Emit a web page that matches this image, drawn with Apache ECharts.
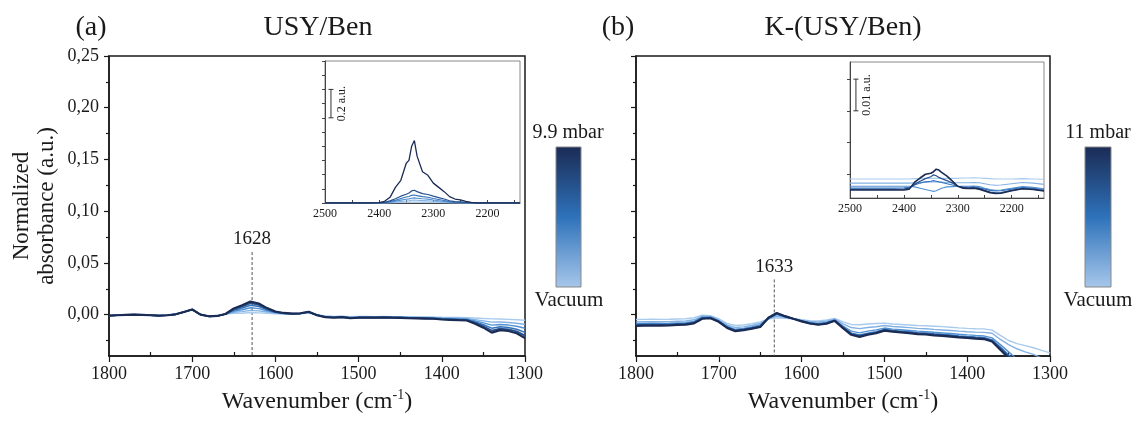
<!DOCTYPE html>
<html><head><meta charset="utf-8">
<script src="https://cdn.jsdelivr.net/npm/echarts@6/dist/echarts.min.js"></script>
<style>html,body{margin:0;padding:0;background:#fff}#c{width:1134px;height:421px}</style>
</head><body><div id="c"></div>
<script>
// ---------- DATA ----------
const wnMain = [1800,1790,1780,1770,1760,1750,1740,1730,1720,1710,1700,1690,1680,1670,1660,1650,1640,1630,1620,1610,1600,1590,1580,1570,1560,1550,1540,1530,1520,1510,1500,1490,1480,1470,1460,1450,1440,1430,1420,1410,1400,1390,1380,1370,1360,1350,1340,1330,1320,1310,1300];
const xTicksMain = [1800,1700,1600,1500,1400,1300];
const yTicksMain = [0,0.05,0.10,0.15,0.20,0.25];
const yMinorMain = [-0.025,0.025,0.075,0.125,0.175,0.225];
const xMinorMain = [1750,1650,1550,1450,1350];

// Panel (a) USY/Ben, lightest (vacuum) -> darkest (9.9 mbar)
const a0 = [-0.0010,-0.0006,-0.0003,0.0000,-0.0003,-0.0006,-0.0010,-0.0006,0.0003,0.0025,0.0050,0.0000,-0.0016,-0.0013,0.0006,0.0012,0.0013,0.0020,0.0017,0.0013,0.0009,0.0006,0.0005,0.0008,0.0015,-0.0001,-0.0013,-0.0018,-0.0016,-0.0020,-0.0018,-0.0018,-0.0019,-0.0018,-0.0019,-0.0020,-0.0021,-0.0022,-0.0023,-0.0024,-0.0026,-0.0027,-0.0028,-0.0029,-0.0033,-0.0037,-0.0041,-0.0043,-0.0046,-0.0050,-0.0055];
const a1 = [-0.0010,-0.0006,-0.0003,0.0000,-0.0003,-0.0006,-0.0010,-0.0006,0.0003,0.0025,0.0050,0.0000,-0.0016,-0.0013,0.0006,0.0022,0.0029,0.0041,0.0036,0.0026,0.0015,0.0009,0.0007,0.0010,0.0019,-0.0002,-0.0016,-0.0021,-0.0018,-0.0024,-0.0021,-0.0021,-0.0022,-0.0021,-0.0022,-0.0023,-0.0025,-0.0026,-0.0027,-0.0028,-0.0031,-0.0033,-0.0035,-0.0037,-0.0048,-0.0060,-0.0073,-0.0072,-0.0076,-0.0083,-0.0096];
const a2 = [-0.0010,-0.0006,-0.0003,0.0000,-0.0003,-0.0006,-0.0010,-0.0006,0.0003,0.0025,0.0050,0.0000,-0.0016,-0.0013,0.0006,0.0033,0.0047,0.0066,0.0058,0.0037,0.0019,0.0011,0.0008,0.0011,0.0022,-0.0003,-0.0019,-0.0024,-0.0020,-0.0027,-0.0024,-0.0024,-0.0025,-0.0023,-0.0025,-0.0026,-0.0028,-0.0029,-0.0030,-0.0032,-0.0036,-0.0039,-0.0041,-0.0044,-0.0060,-0.0080,-0.0102,-0.0096,-0.0101,-0.0112,-0.0132];
const a3 = [-0.0010,-0.0006,-0.0003,0.0000,-0.0003,-0.0006,-0.0010,-0.0006,0.0003,0.0025,0.0050,0.0000,-0.0016,-0.0013,0.0006,0.0043,0.0064,0.0090,0.0078,0.0047,0.0023,0.0013,0.0009,0.0012,0.0025,-0.0004,-0.0021,-0.0026,-0.0022,-0.0030,-0.0027,-0.0027,-0.0027,-0.0025,-0.0027,-0.0028,-0.0031,-0.0032,-0.0033,-0.0035,-0.0040,-0.0043,-0.0046,-0.0049,-0.0071,-0.0098,-0.0131,-0.0118,-0.0124,-0.0141,-0.0172];
const a4 = [-0.0010,-0.0006,-0.0003,0.0000,-0.0003,-0.0006,-0.0010,-0.0006,0.0003,0.0025,0.0050,0.0000,-0.0016,-0.0013,0.0006,0.0052,0.0079,0.0110,0.0094,0.0056,0.0027,0.0015,0.0010,0.0013,0.0027,-0.0005,-0.0023,-0.0028,-0.0024,-0.0033,-0.0029,-0.0029,-0.0029,-0.0027,-0.0029,-0.0030,-0.0033,-0.0034,-0.0036,-0.0038,-0.0044,-0.0047,-0.0050,-0.0053,-0.0080,-0.0112,-0.0154,-0.0135,-0.0142,-0.0162,-0.0203];
const a5 = [-0.0010,-0.0006,-0.0003,0.0000,-0.0003,-0.0006,-0.0010,-0.0006,0.0003,0.0025,0.0050,0.0000,-0.0016,-0.0013,0.0006,0.0060,0.0090,0.0126,0.0107,0.0063,0.0030,0.0016,0.0010,0.0013,0.0028,-0.0006,-0.0025,-0.0030,-0.0025,-0.0035,-0.0030,-0.0030,-0.0030,-0.0028,-0.0030,-0.0031,-0.0035,-0.0036,-0.0038,-0.0040,-0.0047,-0.0050,-0.0054,-0.0057,-0.0088,-0.0126,-0.0174,-0.0150,-0.0158,-0.0180,-0.0227];

// Panel (b) K-(USY/Ben), lightest (vacuum) -> darkest (11 mbar)
const b0 = [-0.0047,-0.0046,-0.0045,-0.0046,-0.0045,-0.0042,-0.0040,-0.0030,-0.0005,-0.0010,-0.0040,-0.0085,-0.0105,-0.0100,-0.0088,-0.0070,-0.0042,-0.0030,-0.0035,-0.0040,-0.0050,-0.0058,-0.0060,-0.0052,-0.0036,-0.0070,-0.0095,-0.0098,-0.0090,-0.0086,-0.0082,-0.0090,-0.0095,-0.0100,-0.0105,-0.0108,-0.0112,-0.0116,-0.0122,-0.0128,-0.0133,-0.0136,-0.0138,-0.0150,-0.0200,-0.0250,-0.0280,-0.0300,-0.0320,-0.0345,-0.0370];
const b1 = [-0.0070,-0.0069,-0.0068,-0.0069,-0.0068,-0.0064,-0.0062,-0.0050,-0.0015,-0.0018,-0.0052,-0.0100,-0.0125,-0.0118,-0.0105,-0.0085,-0.0040,-0.0015,-0.0028,-0.0040,-0.0055,-0.0067,-0.0072,-0.0064,-0.0044,-0.0090,-0.0125,-0.0135,-0.0125,-0.0117,-0.0105,-0.0115,-0.0120,-0.0126,-0.0133,-0.0137,-0.0143,-0.0148,-0.0154,-0.0160,-0.0165,-0.0169,-0.0172,-0.0180,-0.0240,-0.0290,-0.0330,-0.0360,-0.0385,-0.0420,-0.0460];
const b2 = [-0.0086,-0.0085,-0.0084,-0.0085,-0.0084,-0.0080,-0.0078,-0.0066,-0.0025,-0.0025,-0.0060,-0.0113,-0.0142,-0.0133,-0.0120,-0.0100,-0.0036,0.0000,-0.0022,-0.0040,-0.0060,-0.0077,-0.0085,-0.0076,-0.0052,-0.0110,-0.0160,-0.0176,-0.0160,-0.0148,-0.0130,-0.0140,-0.0146,-0.0153,-0.0160,-0.0164,-0.0171,-0.0176,-0.0182,-0.0190,-0.0196,-0.0201,-0.0205,-0.0225,-0.0290,-0.0360,-0.0430,-0.0490,-0.0550,-0.0610,-0.0670];
const b3 = [-0.0096,-0.0094,-0.0093,-0.0094,-0.0093,-0.0089,-0.0087,-0.0075,-0.0032,-0.0029,-0.0065,-0.0120,-0.0151,-0.0142,-0.0128,-0.0110,-0.0033,0.0008,-0.0018,-0.0040,-0.0063,-0.0082,-0.0092,-0.0082,-0.0056,-0.0120,-0.0180,-0.0198,-0.0180,-0.0166,-0.0143,-0.0153,-0.0160,-0.0167,-0.0175,-0.0179,-0.0186,-0.0191,-0.0198,-0.0206,-0.0212,-0.0217,-0.0221,-0.0245,-0.0315,-0.0390,-0.0465,-0.0525,-0.0585,-0.0645,-0.0705];
const b4 = [-0.0102,-0.0100,-0.0099,-0.0100,-0.0099,-0.0094,-0.0092,-0.0080,-0.0036,-0.0032,-0.0068,-0.0125,-0.0156,-0.0146,-0.0132,-0.0115,-0.0031,0.0012,-0.0016,-0.0040,-0.0064,-0.0084,-0.0095,-0.0085,-0.0058,-0.0125,-0.0188,-0.0207,-0.0188,-0.0173,-0.0149,-0.0159,-0.0166,-0.0174,-0.0182,-0.0186,-0.0193,-0.0198,-0.0205,-0.0213,-0.0219,-0.0225,-0.0229,-0.0253,-0.0328,-0.0405,-0.0483,-0.0543,-0.0603,-0.0663,-0.0723];
const b5 = [-0.0108,-0.0106,-0.0105,-0.0106,-0.0105,-0.0100,-0.0098,-0.0085,-0.0040,-0.0035,-0.0070,-0.0128,-0.0160,-0.0150,-0.0135,-0.0120,-0.0030,0.0015,-0.0015,-0.0040,-0.0065,-0.0086,-0.0098,-0.0088,-0.0060,-0.0130,-0.0195,-0.0215,-0.0195,-0.0180,-0.0155,-0.0165,-0.0172,-0.0180,-0.0188,-0.0192,-0.0200,-0.0205,-0.0212,-0.0220,-0.0226,-0.0232,-0.0236,-0.0260,-0.0340,-0.0420,-0.0500,-0.0560,-0.0620,-0.0680,-0.0740];

// Insets (CO2 region)
const wnInset = [2500,2480,2460,2440,2420,2400,2390,2380,2370,2360,2350,2345,2340,2335,2330,2320,2310,2300,2290,2280,2270,2260,2250,2240,2230,2220,2200,2180,2160,2140];
const xTicksInset = [2500,2400,2300,2200];
const xMinorInset = [2500,2450,2400,2350,2300,2250,2200,2150];
const ia0 = [0,0,0,0,0,0,0,0.001,0.002,0.004,0.005,0.006,0.007,0.007,0.007,0.006,0.005,0.004,0.003,0.002,0.001,0,0,0,0,0,0,0,0,0];
const ia1 = [0,0,0,0,0,0,0,0.003,0.007,0.011,0.014,0.016,0.019,0.020,0.019,0.017,0.015,0.012,0.009,0.006,0.003,0.002,0.001,0,0,0,0,0,0,0];
const ia2 = [0,0,0,0,0,0,0.001,0.006,0.013,0.020,0.026,0.029,0.034,0.036,0.034,0.030,0.027,0.021,0.016,0.011,0.006,0.003,0.002,0.001,0,0,0,0,0,0];
const ia3 = [0,0,0,0,0,0,0.002,0.010,0.020,0.032,0.042,0.046,0.054,0.056,0.052,0.045,0.040,0.032,0.025,0.018,0.010,0.006,0.004,0.002,0,0,0,0,0,0];
const ia4 = [0,0,0,0,0,0,0.004,0.015,0.030,0.048,0.062,0.070,0.085,0.090,0.080,0.066,0.060,0.048,0.038,0.028,0.016,0.010,0.008,0.004,0.001,0,0,0,0,0];
const ia5 = [0,0,0,0,0,0.002,0.012,0.040,0.110,0.160,0.280,0.300,0.400,0.440,0.330,0.220,0.195,0.140,0.110,0.080,0.045,0.028,0.022,0.012,0.004,0,0,0,0,0];
const ib0 = [0.0035,0.0035,0.0035,0.0035,0.0035,0.0035,0.0035,0.0036,0.0036,0.0037,0.0037,0.0037,0.0037,0.0037,0.0037,0.0037,0.0037,0.0037,0.0038,0.0038,0.0039,0.0038,0.0037,0.0036,0.0035,0.0035,0.0035,0.0036,0.0035,0.0034];
const ib1 = [0.0022,0.0022,0.0022,0.0022,0.0022,0.0022,0.0022,0.0023,0.0024,0.0025,0.0026,0.0026,0.0026,0.0025,0.0025,0.0024,0.0023,0.0023,0.0023,0.0023,0.0024,0.0023,0.0020,0.0017,0.0015,0.0016,0.0020,0.0024,0.0022,0.0018];
const ib2 = [0.0012,0.0012,0.0012,0.0012,0.0012,0.0012,0.0012,0.0010,0.0006,0.0002,-0.0002,-0.0004,-0.0002,0.0002,0.0006,0.0010,0.0011,0.0012,0.0012,0.0012,0.0013,0.0011,0.0006,0.0002,-0.0001,0.0000,0.0006,0.0011,0.0009,0.0004];
const ib3 = [0.0006,0.0006,0.0006,0.0006,0.0006,0.0007,0.0009,0.0016,0.0022,0.0026,0.0028,0.0030,0.0028,0.0026,0.0024,0.0020,0.0016,0.0012,0.0010,0.0009,0.0010,0.0007,0.0003,-0.0001,-0.0003,-0.0002,0.0003,0.0008,0.0006,0.0002];
const ib4 = [0.0002,0.0002,0.0002,0.0002,0.0002,0.0003,0.0006,0.0018,0.0028,0.0036,0.0042,0.0048,0.0045,0.0040,0.0036,0.0030,0.0022,0.0012,0.0008,0.0006,0.0007,0.0004,-0.0001,-0.0006,-0.0009,-0.0008,-0.0001,0.0005,0.0003,-0.0002];
const ib5 = [0,0,0,0,0,0,0.0003,0.0025,0.0038,0.0050,0.0053,0.0058,0.0066,0.0063,0.0056,0.0044,0.0028,0.0012,0.0006,0.0005,0.0006,0.0003,-0.0003,-0.0008,-0.0011,-0.0010,-0.0002,0.0004,0.0002,-0.0003];
const yTicksInsetB = [0.005,0.015,0.025,0.035];

// annotations
const peakA = 1628, peakB = 1633;
const titlesText = ['(a)', 'USY/Ben', '(b)', 'K-(USY/Ben)'];
const cbTop = ['9.9 mbar', '11 mbar'];
const cbBottom = 'Vacuum';

// ---------- CHART ----------
const FONT = '"Liberation Serif","DejaVu Serif",serif';
const colors = ['#a9cbee','#82b2e3','#5391d3','#3373bc','#26518e','#1b2c54'];
const INK = '#1a1a1a';
const chart = echarts.init(document.getElementById('c'));

const pair = (xs, ys) => xs.map((x, i) => [x, ys[i]]);

function mainX(gi) {
  return [{
    type: 'value', gridIndex: gi, position: 'bottom', min: 1300, max: 1800, inverse: true, interval: 100,
    axisLine: {show: true, onZero: false, lineStyle: {color: INK, width: 1.5}},
    axisTick: {show: true, length: 6, customValues: xTicksMain, lineStyle: {color: INK, width: 1.2}},
    axisLabel: {customValues: xTicksMain, fontFamily: FONT, fontSize: 18, color: INK, margin: 9, formatter: v => String(v)},
    splitLine: {show: false},
    name: 'Wavenumber (cm{s|-1})', nameLocation: 'middle', nameGap: 32,
    nameTextStyle: {fontFamily: FONT, fontSize: 24, color: INK, lineHeight: 28,
      rich: {s: {fontFamily: FONT, fontSize: 14, verticalAlign: 'top', lineHeight: 28, padding: [0, 0, 12, 0]}}}
  }, {
    type: 'value', gridIndex: gi, position: 'bottom', offset: 0, min: 1300, max: 1800, inverse: true,
    axisLine: {show: false, onZero: false},
    axisTick: {show: true, inside: true, length: 4, customValues: xMinorMain, lineStyle: {color: INK, width: 1.2}},
    axisLabel: {show: false}, splitLine: {show: false}
  }];
}
function mainY(gi, showLabels) {
  const ax = {
    type: 'value', gridIndex: gi, position: 'left', min: -0.04, max: 0.25,
    axisLine: {show: true, onZero: false, lineStyle: {color: INK, width: 1.5}},
    axisTick: {show: true, length: 5, customValues: yTicksMain, lineStyle: {color: INK, width: 1.2}},
    axisLabel: {show: showLabels, customValues: yTicksMain, fontFamily: FONT, fontSize: 18, color: INK, margin: 10,
      formatter: v => v.toFixed(2).replace('.', ',')},
    splitLine: {show: false}
  };
  if (showLabels) {
    Object.assign(ax, {
      name: 'Normalized\nabsorbance (a.u.)', nameLocation: 'middle', nameGap: 50, nameRotate: 90,
      nameTextStyle: {fontFamily: FONT, fontSize: 23, color: INK, lineHeight: 25}
    });
  }
  return [ax, {
    type: 'value', gridIndex: gi, position: 'left', offset: 0, min: -0.04, max: 0.25,
    axisLine: {show: false, onZero: false},
    axisTick: {show: true, length: 3, customValues: yMinorMain, lineStyle: {color: INK, width: 1.2}},
    axisLabel: {show: false}, splitLine: {show: false}
  }];
}
function insetX(gi) {
  return {
    type: 'value', gridIndex: gi, position: 'bottom', min: 2140, max: 2500, inverse: true,
    axisLine: {show: true, onZero: false, lineStyle: {color: '#444', width: 1}},
    axisTick: {show: true, inside: true, length: 3, customValues: xMinorInset, lineStyle: {color: '#444'}},
    axisLabel: {customValues: xTicksInset, fontFamily: FONT, fontSize: 12, color: INK, margin: 5, formatter: v => String(v)},
    splitLine: {show: false}
  };
}

const xAxis = [...mainX(0), ...mainX(1), insetX(2), insetX(3)];
const yAxis = [...mainY(0, true), ...mainY(1, false),
  {type: 'value', gridIndex: 2, position: 'left', min: 0, max: 1.0, interval: 0.1,
   axisLine: {show: true, onZero: false, lineStyle: {color: '#444', width: 1}},
   axisTick: {show: true, length: 3, lineStyle: {color: '#444'}}, axisLabel: {show: false}, splitLine: {show: false}},
  {type: 'value', gridIndex: 3, position: 'left', min: -0.0025, max: 0.0404,
   axisLine: {show: true, onZero: false, lineStyle: {color: '#444', width: 1}},
   axisTick: {show: true, length: 3, customValues: yTicksInsetB, lineStyle: {color: '#444'}}, axisLabel: {show: false}, splitLine: {show: false}}
];

const series = [];
function lines(xi, yi, xs, arrs, widths) {
  arrs.forEach((arr, k) => series.push({
    type: 'line', xAxisIndex: xi, yAxisIndex: yi, data: pair(xs, arr),
    showSymbol: false, symbol: 'none', silent: true, animation: false, z: 3 + k,
    lineStyle: {color: colors[k], width: widths[k]}
  }));
}
const labelStyle = (text, size, rotate) => ({show: true, position: 'inside', rotate: rotate || 0, formatter: text,
  fontFamily: FONT, fontSize: size, color: INK, opacity: 1, textBorderWidth: 0});
function peakMarker(xi, yi, wn, top, labelY) {
  series.push({type: 'line', xAxisIndex: xi, yAxisIndex: yi, data: [[wn, top], [wn, -0.04]],
    showSymbol: false, symbol: 'none', silent: true, animation: false, z: 2,
    lineStyle: {color: '#555', width: 1, type: [3, 2]}});
  series.push({type: 'scatter', xAxisIndex: xi, yAxisIndex: yi, data: [[wn, labelY]], symbolSize: 0.1,
    silent: true, animation: false, z: 10, itemStyle: {opacity: 1, color: 'transparent'},
    label: labelStyle(String(wn), 19)});
}
function scaleBar(xi, yi, wn, lo, hi, labelWn, text) {
  series.push({type: 'line', xAxisIndex: xi, yAxisIndex: yi, data: [[wn, lo], [wn, hi]],
    showSymbol: true, symbol: 'rect', symbolSize: [5, 1], silent: true, animation: false,
    itemStyle: {color: '#333'}, lineStyle: {color: '#333', width: 1}});
  series.push({type: 'scatter', xAxisIndex: xi, yAxisIndex: yi, data: [[labelWn, (lo + hi) / 2]], symbolSize: 0.1,
    silent: true, animation: false, z: 10, itemStyle: {opacity: 1, color: 'transparent'},
    label: labelStyle(text, 12, 90)});
}

peakMarker(0, 0, peakA, 0.0605, 0.073);
peakMarker(2, 2, peakB, 0.034, 0.0465);
lines(0, 0, wnMain, [a0, a1, a2, a3, a4, a5], [1.4, 1.4, 1.4, 1.5, 1.7, 2.2]);
lines(2, 2, wnMain, [b0, b1, b2, b3, b4, b5], [1.4, 1.4, 1.4, 1.6, 1.8, 2.2]);
lines(4, 4, wnInset, [ia0, ia1, ia2, ia3, ia4, ia5], [1.1, 1.1, 1.1, 1.1, 1.2, 1.3]);
lines(5, 5, wnInset, [ib0, ib1, ib2, ib3, ib4, ib5], [1.1, 1.1, 1.1, 1.1, 1.2, 1.6]);
scaleBar(4, 4, 2489, 0.6, 0.8, 2469, '0.2 a.u.');
scaleBar(5, 5, 2489, 0.025, 0.035, 2469, '0.01 a.u.');

const grad = () => new echarts.graphic.LinearGradient(0, 0, 0, 1, [
  {offset: 0, color: '#1b2b55'}, {offset: 0.5, color: '#2e72ba'}, {offset: 1, color: '#a7c7eb'}]);
const txt = (x, y, text, size) => ({type: 'text', x, y, z: 10, style: {text, fontFamily: FONT, fontSize: size, fill: INK,
  align: 'center', verticalAlign: 'middle', textAlign: 'center', textVerticalAlign: 'middle'}});

chart.setOption({
  animation: false,
  grid: [
    {left: 109, top: 56, width: 416, height: 305, show: true, borderColor: INK, borderWidth: 1.5, backgroundColor: 'transparent'},
    {left: 636, top: 56, width: 414, height: 305, show: true, borderColor: INK, borderWidth: 1.5, backgroundColor: 'transparent'},
    {left: 325, top: 61, width: 195, height: 142, show: true, borderColor: '#888', borderWidth: 1, backgroundColor: '#fff'},
    {left: 850, top: 62, width: 194, height: 136, show: true, borderColor: '#888', borderWidth: 1, backgroundColor: '#fff'}
  ],
  xAxis, yAxis, series,
  graphic: [
    txt(91, 28, titlesText[0], 28), txt(318, 28, titlesText[1], 28),
    txt(618, 28, titlesText[2], 28), txt(843, 28, titlesText[3], 28),
    {type: 'rect', z: 10, shape: {x: 556, y: 147, width: 25, height: 140}, style: {fill: grad(), stroke: '#888', lineWidth: 1}},
    {type: 'rect', z: 10, shape: {x: 1085, y: 147, width: 26, height: 140}, style: {fill: grad(), stroke: '#888', lineWidth: 1}},
    txt(568, 133, cbTop[0], 20), txt(569, 300, cbBottom, 21),
    txt(1098, 133, cbTop[1], 20), txt(1098, 300, cbBottom, 21)
  ]
});
</script></body></html>
